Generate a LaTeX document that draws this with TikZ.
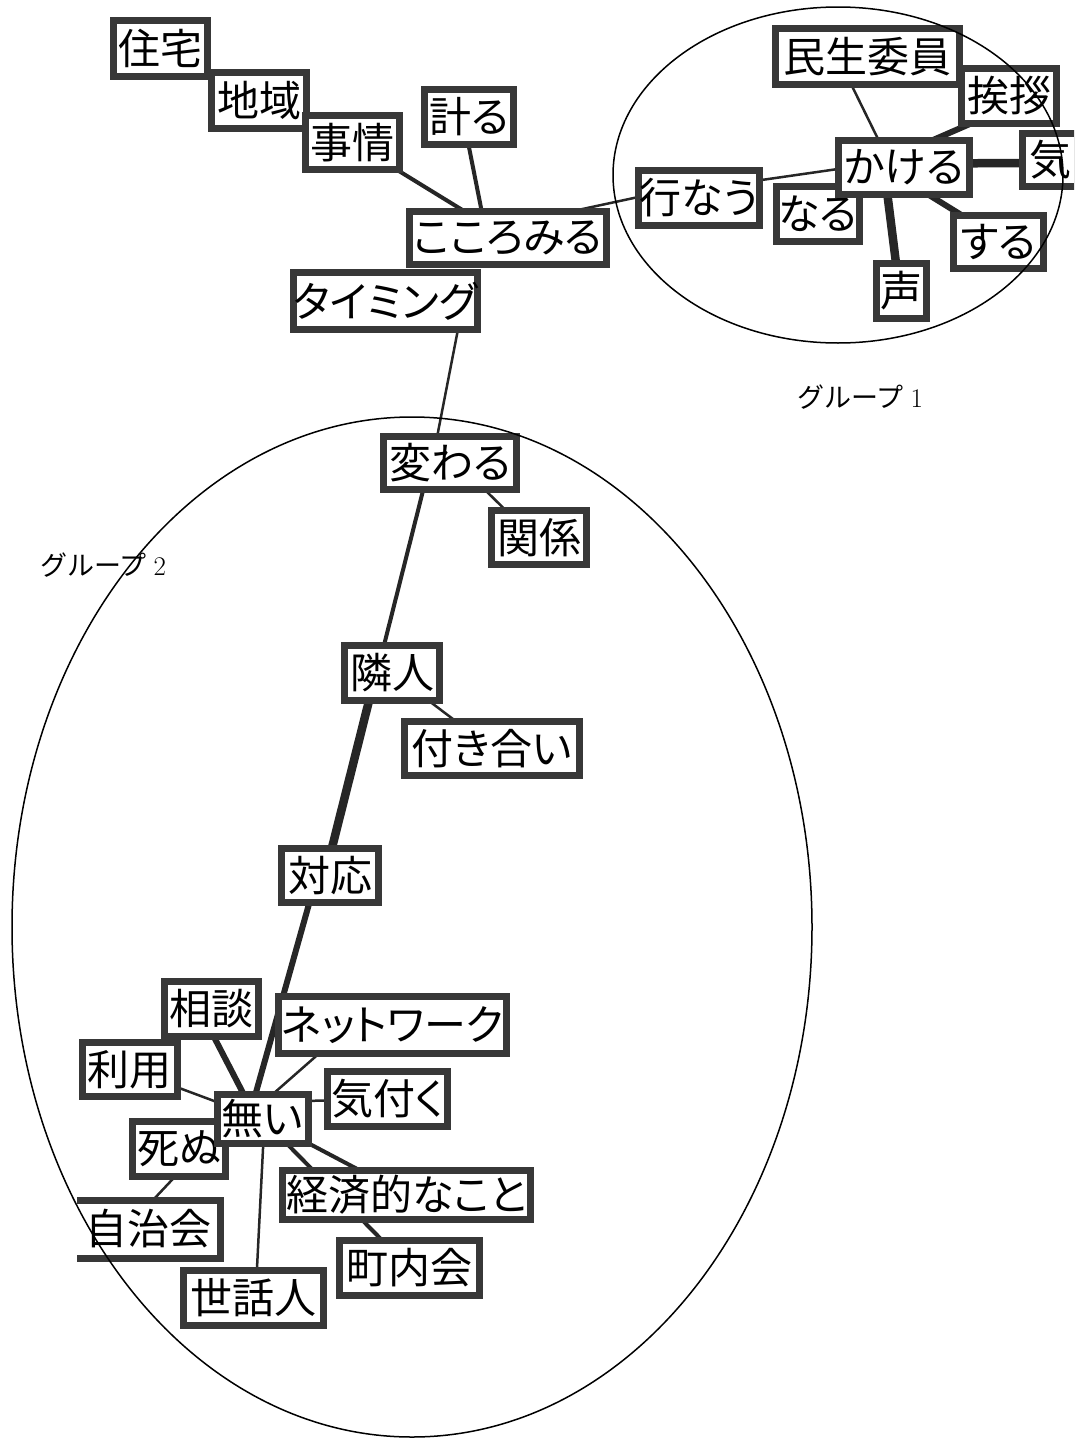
\documentclass[tikz,border=0pt]{standalone}
\usepackage{fontspec}
\newfontfamily\cjk[RawFeature=+palt]{Noto Sans CJK JP}
\newfontfamily\cjklab{Noto Sans CJK JP}
\usetikzlibrary{calc}
\pgfdeclarelayer{bg}
\pgfsetlayers{bg,main}
\newcommand\kbox[6]{\node[kb,minimum width={#4pt-7pt},minimum height={#5pt-7pt}] (#1) at (#2,#3) {#6};}
\tikzset{
  kb/.style={draw=black!78, line width=7pt, fill=white, inner sep=0pt, text=black, font=\cjk\fontsize{42}{42}\selectfont},
  eA/.style={draw=black!85, line width=2.5pt},
  eB/.style={draw=black!85, line width=4pt},
  eC/.style={draw=black!85, line width=6pt},
  eD/.style={draw=black!85, line width=8.5pt},
  grp/.style={draw=black, line width=1.5pt},
  glab/.style={anchor=west, inner sep=0pt, text=black, font=\fontsize{27}{27}\selectfont}
}
\begin{document}
\begin{tikzpicture}[x=1pt,y=-1pt]
\useasboundingbox (0,0) rectangle (1074,1440);
\clip (0,0) rectangle (1074,1440);
% ---- nodes
\kbox{sumai}{160.5}{48.5}{101}{63}{住宅}
\kbox{chiiki}{259}{100.5}{102}{63}{地域}
\kbox{jijou}{352.5}{142.5}{101}{61}{事情}
\kbox{hakaru}{469}{117}{96}{62}{計る}
\kbox{kokoro}{508}{238}{204}{60}{こころみる}
\kbox{timing}{385.5}{301}{191}{64}{タイミング}
\kbox{minsei}{867.5}{56.5}{191}{63}{民生委員}
\kbox{aisatsu}{1009}{96}{102}{62}{挨拶}
\kbox{okonau}{699}{198}{128}{62}{行なう}
\kbox{naru}{818}{214}{90}{62}{なる}
\kbox{kakeru}{904}{167.5}{138}{61}{かける}
\kbox{ki}{1050}{160}{62}{60}{気}
\kbox{suru}{998.5}{242}{97}{60}{する}
\kbox{koe}{901.5}{291}{57}{62}{声}
\kbox{kawaru}{450}{463}{140}{60}{変わる}
\kbox{kankei}{539}{537.5}{102}{61}{関係}
\kbox{rinjin}{392}{673}{102}{62}{隣人}
\kbox{tsukiai}{492}{748.5}{182}{61}{付き合い}
\kbox{taiou}{330}{875.5}{104}{61}{対応}
\kbox{soudan}{211.5}{1009}{101}{62}{相談}
\kbox{net}{392.5}{1025}{235}{64}{ネットワーク}
\kbox{riyou}{129.5}{1069.5}{102}{61}{利用}
\kbox{kizuku}{387.5}{1099}{127}{62}{気付く}
\kbox{shinu}{179}{1149}{100}{62}{死ぬ}
\kbox{nai}{262.5}{1119}{98}{56}{無い}
\node[kb,draw=none,minimum width={143pt-7pt},minimum height={58pt-7pt}] (jichi) at (148.75,1229) {自治会};
\draw[draw=black!78,line width=7pt] (jichi.north west) -- (jichi.north east) -- (jichi.south east) -- (jichi.south west);
\kbox{keizai}{406.5}{1195}{255}{56}{経済的なこと}
\kbox{chounai}{409.5}{1268}{147}{62}{町内会}
\kbox{sewa}{253.5}{1298}{147}{62}{世話人}
% ---- edges (behind the boxes)
\begin{pgfonlayer}{bg}
\draw[eB] (jijou.center) -- (kokoro.center);
\draw[eB] ([xshift=-6pt]hakaru.center) -- ([xshift=-21pt]kokoro.center);
\draw[eA] ([yshift=13pt]kokoro.center) -- ([yshift=14pt]okonau.center);
\draw[eA] ([xshift=78pt]timing.center) -- ([xshift=-18pt]kawaru.center);
\draw[eA] ([yshift=9pt]okonau.center) -- ([yshift=8pt]kakeru.center);
\draw[eA] ([xshift=-30pt]minsei.center) -- ([xshift=-12pt]kakeru.center);
\draw[eC] ([xshift=25pt]aisatsu.center) -- ([xshift=-34pt]kakeru.center);
\draw[eD] ([yshift=4pt]kakeru.center) -- ([yshift=-3pt]ki.center);
\draw[eC] ([yshift=-12pt]kakeru.center) -- ([yshift=4pt]suru.center);
\draw[eD] ([xshift=-20pt]kakeru.center) -- ([xshift=-2pt]koe.center);
\draw[eA] ([yshift=8pt]kawaru.center) -- ([yshift=-6pt]kankei.center);
\draw[eB] ([xshift=-20pt]kawaru.center) -- ([xshift=-15pt]rinjin.center);
\draw[eA] (rinjin.center) -- (tsukiai.center);
\draw[eD] ([xshift=-16pt]rinjin.center) -- ([xshift=-5pt]taiou.center);
\draw[eC] ([xshift=-13pt]taiou.center) -- ([xshift=-14pt]nai.center);
\draw[eC] ([xshift=-12pt]soudan.center) -- ([xshift=-6pt]nai.center);
\draw[eA] ([xshift=-41pt]net.center) -- ([xshift=-18pt]nai.center);
\draw[eA] (riyou.center) -- (nai.center);
\draw[eA] ([yshift=17pt]nai.center) -- (kizuku.center);
\draw[eA] ([xshift=2pt]nai.center) -- ([xshift=2pt]sewa.center);
\draw[eB] (nai.center) -- (keizai.center);
\draw[eB] (nai.center) -- (chounai.center);
\draw[eA] ([xshift=22pt]shinu.center) -- ([xshift=-23pt]jichi.center);
\end{pgfonlayer}
% ---- group ellipses (on top)
\draw[grp] (838,175) ellipse [x radius=225pt, y radius=168pt];
\draw[grp] (412,927) ellipse [x radius=400pt, y radius=510pt];
% ---- group labels
\node[glab] (g1) at (797,397) {{\cjklab グループ}\hspace{7pt}1};
\node[glab] (g2) at (40,565) {{\cjklab グループ}\hspace{7pt}2};
\end{tikzpicture}
\end{document}
